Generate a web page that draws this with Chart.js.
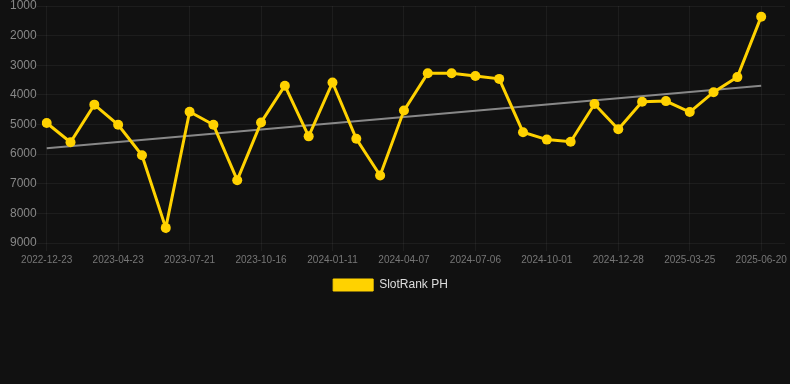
<!DOCTYPE html>
<html>
<head>
<meta charset="utf-8">
<script src="https://cdn.jsdelivr.net/npm/chart.js@4.4.1/dist/chart.umd.min.js"></script>
<style>
  html, body { margin: 0; padding: 0; background: #111111; }
  #wrap { position: relative; width: 790px; height: 301px; }
</style>
</head>
<body>
<div id="wrap"><canvas id="chart"></canvas></div>
<script>
const labels = [
  '2022-12-23', '2023-02-02', '2023-03-14', '2023-04-23', '2023-05-23', '2023-06-22',
  '2023-07-21', '2023-08-19', '2023-09-17', '2023-10-16', '2023-11-14', '2023-12-13',
  '2024-01-11', '2024-02-09', '2024-03-09', '2024-04-07', '2024-05-07', '2024-06-06',
  '2024-07-06', '2024-08-04', '2024-09-02', '2024-10-01', '2024-10-30', '2024-11-29',
  '2024-12-28', '2025-01-26', '2025-02-24', '2025-03-25', '2025-04-23', '2025-05-22',
  '2025-06-20', '2025-07-20'
];

const rankValues = [
  4950, 5600, 4330, 5010, 6040, 8490, 4570, 5010, 6880, 4930, 3690, 5400,
  3580, 5480, 6720, 4530, 3270, 3270, 3360, 3460, 5260, 5510, 5580, 4310,
  5160, 4230, 4210, 4580, 3910, 3400, 1360
];

// trend line: only the two ends are given, the line spans the gap
const trendValues = [5800];
trendValues[30] = 3690;

const yTicks = [1000, 2000, 3000, 4000, 5000, 6000, 7000, 8000, 9000];

const gridColor = 'rgba(255, 255, 255, 0.05)';
const lineColor = '#FFD200';
const fontFamily = "'Liberation Sans', Arial, sans-serif";

new Chart(document.getElementById('chart'), {
  type: 'line',
  data: {
    labels: labels,
    datasets: [
      {
        label: 'SlotRank PH',
        data: rankValues,
        borderColor: lineColor,
        backgroundColor: lineColor,
        borderWidth: 3,
        pointRadius: 5,
        pointBorderWidth: 0,
        pointBackgroundColor: lineColor,
        tension: 0,
        fill: false
      },
      {
        label: 'trend',
        data: trendValues,
        borderColor: 'rgba(150, 150, 150, 0.9)',
        borderWidth: 2,
        pointRadius: 0,
        spanGaps: true,
        fill: false
      }
    ]
  },
  options: {
    responsive: true,
    maintainAspectRatio: false,
    animation: false,
    layout: { padding: { left: -9, right: 0, top: 0, bottom: 0 } },
    plugins: {
      legend: {
        position: 'bottom',
        labels: {
          color: '#dddddd',
          font: { family: fontFamily, size: 12 },
          boxWidth: 40,
          boxHeight: 12,
          filter: item => item.text !== 'trend',
          generateLabels: chart => {
            const items = Chart.defaults.plugins.legend.labels.generateLabels(chart);
            items.forEach(it => { it.lineWidth = 1; });
            return items;
          }
        }
      },
      tooltip: { enabled: false }
    },
    scales: {
      x: {
        grid: { color: gridColor, tickLength: 8 },
        border: { display: false },
        ticks: {
          color: '#777777',
          font: { family: fontFamily, size: 10 },
          maxRotation: 0,
          autoSkip: true
        }
      },
      y: {
        reverse: true,
        min: 1000,
        max: 9000,
        afterBuildTicks: axis => { axis.ticks = yTicks.map(v => ({ value: v })); },
        afterFit: axis => { axis.width = 55.7; },
        grid: { color: gridColor, tickLength: 10 },
        border: { display: false },
        ticks: {
          color: '#888888',
          padding: 0,
          font: { family: fontFamily, size: 12, lineHeight: 1 },
          callback: v => String(v)
        }
      }
    }
  }
});
</script>
</body>
</html>
